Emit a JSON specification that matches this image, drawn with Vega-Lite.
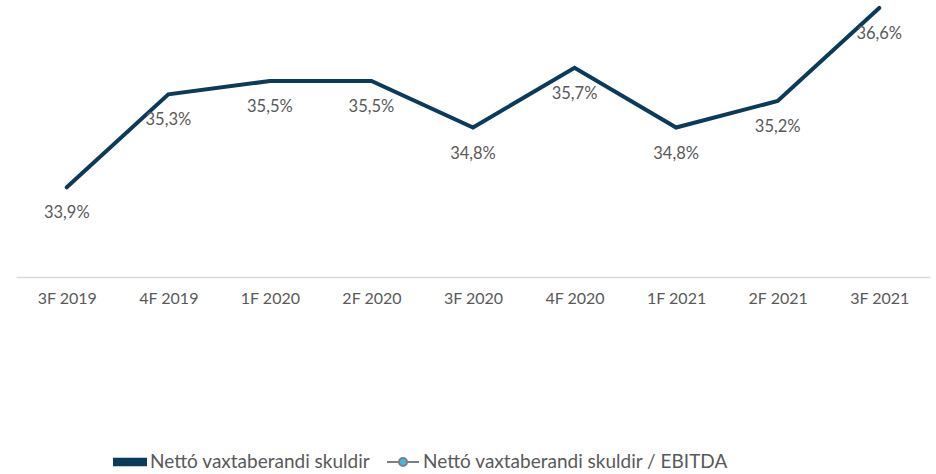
{
  "$schema": "https://vega.github.io/schema/vega-lite/v6.json",
  "width": 914,
  "height": 277,
  "autosize": {"type": "none"},
  "padding": {"left": 16, "top": 0, "right": 6, "bottom": 197},
  "background": "white",
  "config": {"view": {"stroke": null}, "font": "Lato"},
  "data": {
    "values": [
      {"period": "3F 2019", "value": 33.9, "label": "33,9%", "series": "Nettó vaxtaberandi skuldir"},
      {"period": "4F 2019", "value": 35.3, "label": "35,3%", "series": "Nettó vaxtaberandi skuldir"},
      {"period": "1F 2020", "value": 35.5, "label": "35,5%", "series": "Nettó vaxtaberandi skuldir"},
      {"period": "2F 2020", "value": 35.5, "label": "35,5%", "series": "Nettó vaxtaberandi skuldir"},
      {"period": "3F 2020", "value": 34.8, "label": "34,8%", "series": "Nettó vaxtaberandi skuldir"},
      {"period": "4F 2020", "value": 35.7, "label": "35,7%", "series": "Nettó vaxtaberandi skuldir"},
      {"period": "1F 2021", "value": 34.8, "label": "34,8%", "series": "Nettó vaxtaberandi skuldir"},
      {"period": "2F 2021", "value": 35.2, "label": "35,2%", "series": "Nettó vaxtaberandi skuldir"},
      {"period": "3F 2021", "value": 36.6, "label": "36,6%", "series": "Nettó vaxtaberandi skuldir"}
    ]
  },
  "encoding": {
    "x": {
      "field": "period", "type": "ordinal", "sort": null,
      "scale": {"paddingInner": 0, "paddingOuter": 0},
      "axis": {
        "title": null, "labelAngle": 0, "ticks": false, "grid": false,
        "domainColor": "#d9d9d9", "domainWidth": 1.5,
        "labelColor": "#595959", "labelFontSize": 16, "labelPadding": 13,
        "labelFont": "Lato"
      }
    },
    "y": {
      "field": "value", "type": "quantitative",
      "scale": {"domain": [32.55, 36.72], "zero": false, "nice": false},
      "axis": null
    }
  },
  "layer": [
    {
      "mark": {"type": "line", "strokeWidth": 4, "strokeCap": "round", "strokeJoin": "miter", "color": "#0B3A5A"}
    },
    {
      "mark": {"type": "point", "filled": true, "size": 0},
      "encoding": {
        "fill": {
          "field": "series", "type": "nominal",
          "scale": {
            "domain": ["Nettó vaxtaberandi skuldir", "Nettó vaxtaberandi skuldir / EBITDA"],
            "range": ["#0B3A5A", "#3FB4EE"]
          },
          "legend": {
            "title": null, "orient": "none", "legendX": 97, "legendY": 445,
            "direction": "horizontal", "columnPadding": 12,
            "labelFontSize": 19, "labelColor": "#595959", "labelFont": "Lato",
            "labelLimit": 0, "labelOffset": 3, "symbolSize": 1024, "symbolStrokeWidth": 2,
            "symbolOpacity": 1,
            "encode": {
              "symbols": {
                "update": {
                  "shape": {"signal": "datum.value === 'Nettó vaxtaberandi skuldir' ? 'M-1,-0.2H1V0.2H-1Z' : 'M-1,0H-0.25M0.25,0H1M0.25,0A0.25,0.25,0,1,1,-0.25,0A0.25,0.25,0,1,1,0.25,0Z'"},
                  "stroke": {"signal": "datum.value === 'Nettó vaxtaberandi skuldir' ? '#0B3A5A' : '#7f7f7f'"},
                  "fillOpacity": {"value": 1},
                  "opacity": {"value": 1}
                }
              }
            }
          }
        }
      }
    },
    {
      "mark": {"type": "text", "dy": 26, "fontSize": 16.5, "color": "#595959", "font": "Lato"},
      "encoding": {"text": {"field": "label"}}
    }
  ]
}
